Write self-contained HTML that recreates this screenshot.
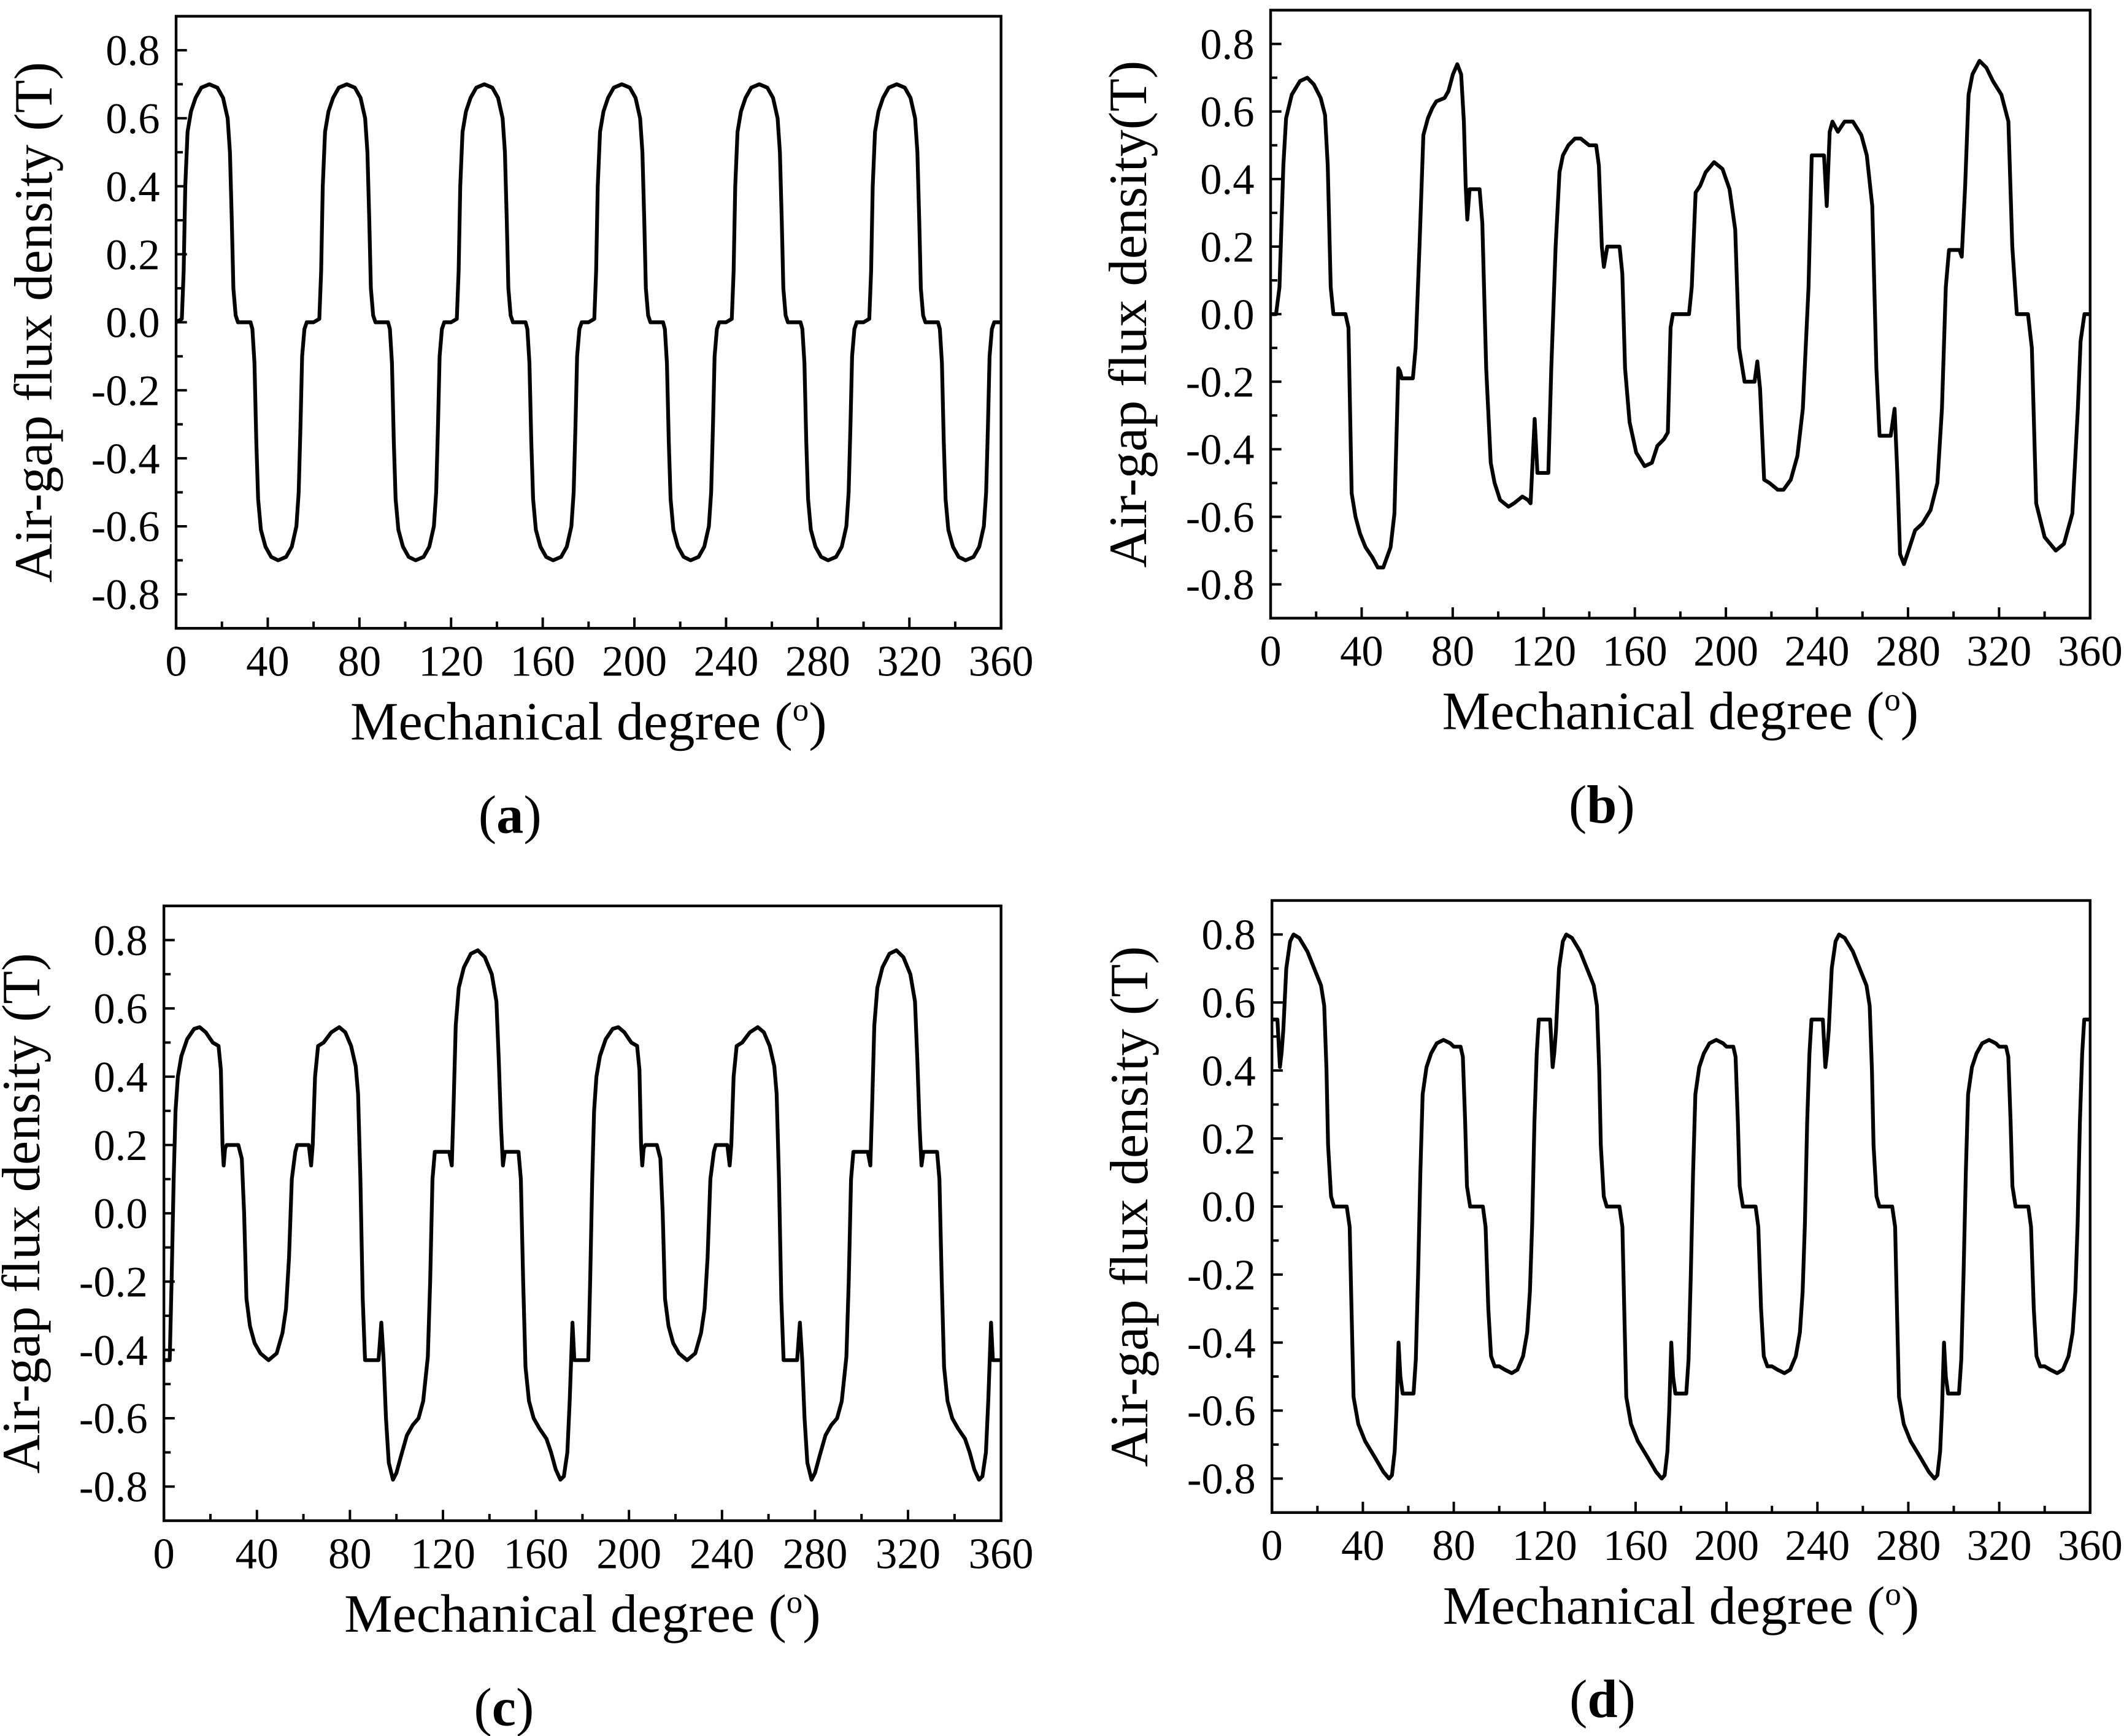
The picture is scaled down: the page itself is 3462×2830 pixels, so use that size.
<!DOCTYPE html>
<html><head><meta charset="utf-8"><style>
html,body{margin:0;padding:0;background:#fff;}
svg{display:block;}
text{font-family:"Liberation Serif",serif;fill:#000;}
</style></head><body>
<svg id="fig" xmlns="http://www.w3.org/2000/svg" width="3462" height="2830" viewBox="0 0 1568 1282" preserveAspectRatio="none"></svg>
<script>
const xTicks=[0,40,80,120,160,200,240,280,320,360];
const yTicks=[0.8,0.6,0.4,0.2,0.0,-0.2,-0.4,-0.6,-0.8];
const yTickLabels=["0.8","0.6","0.4","0.2","0.0","-0.2","-0.4","-0.6","-0.8"];

const aDeg=[0,2.5,3.3,4,5,6.5,8.5,11,14.5,18,20.5,22.5,23.5,24.3,25,26,27,32.5,33.3,34.2,35,35.8,37,39,41.5,44.5,48,50.5,52.5,53.5,54.3,55,56,57,
60,62.5,63.3,64,65,66.5,68.5,71,74.5,78,80.5,82.5,83.5,84.3,85,86,87,92.5,93.3,94.2,95,95.8,97,99,101.5,104.5,108,110.5,112.5,113.5,114.3,115,116,117,
120,122.5,123.3,124,125,126.5,128.5,131,134.5,138,140.5,142.5,143.5,144.3,145,146,147,152.5,153.3,154.2,155,155.8,157,159,161.5,164.5,168,170.5,172.5,173.5,174.3,175,176,177,
180,182.5,183.3,184,185,186.5,188.5,191,194.5,198,200.5,202.5,203.5,204.3,205,206,207,212.5,213.3,214.2,215,215.8,217,219,221.5,224.5,228,230.5,232.5,233.5,234.3,235,236,237,
240,242.5,243.3,244,245,246.5,248.5,251,254.5,258,260.5,262.5,263.5,264.3,265,266,267,272.5,273.3,274.2,275,275.8,277,279,281.5,284.5,288,290.5,292.5,293.5,294.3,295,296,297,
300,302.5,303.3,304,305,306.5,308.5,311,314.5,318,320.5,322.5,323.5,324.3,325,326,327,332.5,333.3,334.2,335,335.8,337,339,341.5,344.5,348,350.5,352.5,353.5,354.3,355,356,357,359.6];
const aB=[0,0.01,0.15,0.4,0.56,0.62,0.66,0.69,0.70,0.69,0.66,0.6,0.5,0.3,0.1,0.02,0,0,-0.02,-0.12,-0.35,-0.52,-0.61,-0.66,-0.69,-0.70,-0.69,-0.66,-0.6,-0.5,-0.3,-0.1,-0.02,0,
0,0.01,0.15,0.4,0.56,0.62,0.66,0.69,0.70,0.69,0.66,0.6,0.5,0.3,0.1,0.02,0,0,-0.02,-0.12,-0.35,-0.52,-0.61,-0.66,-0.69,-0.70,-0.69,-0.66,-0.6,-0.5,-0.3,-0.1,-0.02,0,
0,0.01,0.15,0.4,0.56,0.62,0.66,0.69,0.70,0.69,0.66,0.6,0.5,0.3,0.1,0.02,0,0,-0.02,-0.12,-0.35,-0.52,-0.61,-0.66,-0.69,-0.70,-0.69,-0.66,-0.6,-0.5,-0.3,-0.1,-0.02,0,
0,0.01,0.15,0.4,0.56,0.62,0.66,0.69,0.70,0.69,0.66,0.6,0.5,0.3,0.1,0.02,0,0,-0.02,-0.12,-0.35,-0.52,-0.61,-0.66,-0.69,-0.70,-0.69,-0.66,-0.6,-0.5,-0.3,-0.1,-0.02,0,
0,0.01,0.15,0.4,0.56,0.62,0.66,0.69,0.70,0.69,0.66,0.6,0.5,0.3,0.1,0.02,0,0,-0.02,-0.12,-0.35,-0.52,-0.61,-0.66,-0.69,-0.70,-0.69,-0.66,-0.6,-0.5,-0.3,-0.1,-0.02,0,
0,0.01,0.15,0.4,0.56,0.62,0.66,0.69,0.70,0.69,0.66,0.6,0.5,0.3,0.1,0.02,0,0,-0.02,-0.12,-0.35,-0.52,-0.61,-0.66,-0.69,-0.70,-0.69,-0.66,-0.6,-0.5,-0.3,-0.1,-0.02,0,0];

const bDeg=[0,2.4,3.9,5.6,6.8,9.3,12.9,16.1,19,22,23.9,25.1,26.4,27.6,32.9,34.2,35.6,37.3,39.3,41.7,44.7,47.1,49.5,52.7,54.4,56.1,56.9,57.6,62.5,63.7,65.4,67.1,69.1,71,72.8,76.4,78.1,80.1,82,83.7,84.9,85.7,86.4,87.4,91.8,93,94.7,96.7,98.4,100.8,104.5,106.9,110.6,113,114.2,116,117.2,122,123.3,125.2,126.9,128.4,130.8,133.7,136.2,139.9,143,144.2,145.5,146.4,147.9,153.3,154.5,155.7,157.7,160.6,164.3,167.5,169.9,172.8,174.5,175.7,176.7,183.8,185,186.7,188.7,191.1,194.8,198.5,201.6,204.1,205.8,208.2,212.6,213.8,215,216.8,219.2,222.8,225.3,228.5,231.4,233.8,236.3,237.7,243.1,244.3,245.6,246.8,249.2,252.1,255.8,259.5,261.9,264.3,266.1,267.5,272.4,274.1,275.3,276.5,278.2,280.2,283.1,286.3,289.9,292.9,294.9,296.6,298,302.6,303.6,305.1,306.6,308.3,311.4,314.4,317.3,321,324.1,325.8,327.8,332.7,334.4,336.3,340,344.9,348.5,352.2,354.6,355.8,357.5,360];
const bB=[0,0,0.08,0.44,0.58,0.65,0.69,0.70,0.68,0.64,0.59,0.44,0.08,0,0,-0.04,-0.53,-0.6,-0.65,-0.69,-0.72,-0.75,-0.75,-0.69,-0.59,-0.16,-0.17,-0.19,-0.19,-0.1,0.2,0.53,0.58,0.61,0.63,0.64,0.66,0.71,0.74,0.71,0.57,0.38,0.28,0.37,0.37,0.27,-0.16,-0.44,-0.5,-0.55,-0.57,-0.56,-0.54,-0.55,-0.56,-0.31,-0.47,-0.47,-0.16,0.2,0.42,0.47,0.5,0.52,0.52,0.5,0.5,0.44,0.2,0.14,0.2,0.2,0.12,-0.16,-0.32,-0.41,-0.45,-0.44,-0.39,-0.37,-0.35,-0.04,0,0,0.08,0.36,0.38,0.42,0.45,0.43,0.37,0.25,-0.1,-0.2,-0.2,-0.14,-0.22,-0.49,-0.5,-0.52,-0.52,-0.49,-0.42,-0.28,0.08,0.47,0.47,0.32,0.54,0.57,0.54,0.57,0.57,0.53,0.47,0.32,-0.16,-0.36,-0.36,-0.28,-0.47,-0.71,-0.74,-0.7,-0.64,-0.62,-0.58,-0.5,-0.28,0.08,0.19,0.19,0.17,0.38,0.65,0.71,0.75,0.73,0.69,0.65,0.57,0.2,0,0,-0.1,-0.56,-0.66,-0.70,-0.68,-0.59,-0.28,-0.08,0,0];

const cDeg=[0,2.5,3.3,4.2,5,6,7.5,10,13,15.4,18,21,23.5,24.5,25.2,25.7,26.3,27,32,33.5,34.5,35.5,37,39,41.5,45,48.5,51,52.5,53.8,55,56.5,57.3,62.3,63.3,64,65,66.3,68.7,72,75.4,78,80.5,82.5,83.5,84.5,85.5,86.5,92.3,93.5,94.5,95.5,96.7,98.5,100,102,104.5,107,109.5,111.5,113.5,114.5,115.5,116.5,122.7,123.8,124.5,125.5,126.8,129,132,135,138,141,143,144,145,145.8,146.6,152.5,153.5,154.5,155.5,157,159,161.5,164.5,166.5,168.5,170.5,172,173.5,174.5,175.7,176.5,
180,182.5,183.3,184.2,185,186,187.5,190,193,195.4,198,201,203.5,204.5,205.2,205.7,206.3,207,212,213.5,214.5,215.5,217,219,221.5,225,228.5,231,232.5,233.8,235,236.5,237.3,242.3,243.3,244,245,246.3,248.7,252,255.4,258,260.5,262.5,263.5,264.5,265.5,266.5,272.3,273.5,274.5,275.5,276.7,278.5,280,282,284.5,287,289.5,291.5,293.5,294.5,295.5,296.5,302.7,303.8,304.5,305.5,306.8,309,312,315,318,321,323,324,325,325.8,326.6,332.5,333.5,334.5,335.5,337,339,341.5,344.5,346.5,348.5,350.5,352,353.5,354.5,355.7,356.5,360];
const cB=[-0.43,-0.43,-0.2,0.1,0.3,0.4,0.46,0.51,0.54,0.545,0.53,0.5,0.49,0.42,0.2,0.14,0.19,0.2,0.2,0.16,0.0,-0.25,-0.33,-0.38,-0.41,-0.43,-0.41,-0.35,-0.28,-0.13,0.1,0.18,0.2,0.2,0.14,0.2,0.4,0.49,0.5,0.53,0.545,0.53,0.49,0.43,0.35,0.1,-0.25,-0.43,-0.43,-0.32,-0.43,-0.6,-0.73,-0.78,-0.76,-0.71,-0.65,-0.62,-0.6,-0.55,-0.42,-0.2,0.1,0.18,0.18,0.14,0.3,0.55,0.66,0.72,0.76,0.77,0.75,0.7,0.62,0.45,0.25,0.14,0.18,0.18,0.1,-0.2,-0.45,-0.55,-0.6,-0.63,-0.66,-0.7,-0.75,-0.78,-0.77,-0.7,-0.55,-0.32,-0.43,
-0.43,-0.43,-0.2,0.1,0.3,0.4,0.46,0.51,0.54,0.545,0.53,0.5,0.49,0.42,0.2,0.14,0.19,0.2,0.2,0.16,0.0,-0.25,-0.33,-0.38,-0.41,-0.43,-0.41,-0.35,-0.28,-0.13,0.1,0.18,0.2,0.2,0.14,0.2,0.4,0.49,0.5,0.53,0.545,0.53,0.49,0.43,0.35,0.1,-0.25,-0.43,-0.43,-0.32,-0.43,-0.6,-0.73,-0.78,-0.76,-0.71,-0.65,-0.62,-0.6,-0.55,-0.42,-0.2,0.1,0.18,0.18,0.14,0.3,0.55,0.66,0.72,0.76,0.77,0.75,0.7,0.62,0.45,0.25,0.14,0.18,0.18,0.1,-0.2,-0.45,-0.55,-0.6,-0.63,-0.66,-0.7,-0.75,-0.78,-0.77,-0.7,-0.55,-0.32,-0.43,-0.43];

const dDeg=[0,2.4,3.5,4.2,5,6.3,8,9.5,12,15.6,19.2,21.6,23,24,24.7,26,27.3,32.9,34.2,35,35.9,38,41,45.5,49,51.5,52.8,54,54.8,55.7,56.5,57.5,62.3,63.3,64.3,65.3,66.3,68,70,72.5,75.5,78.5,80,83,84,85,85.8,87.2,92.8,94,95.2,96.4,98,100,102.5,105.5,108,110.5,112.3,113.5,114.5,115.5,116.5,117.4,
120,122.4,123.5,124.2,125,126.3,128,129.5,132,135.6,139.2,141.6,143,144,144.7,146,147.3,152.9,154.2,155,155.9,158,161,165.5,169,171.5,172.8,174,174.8,175.7,176.5,177.5,182.3,183.3,184.3,185.3,186.3,188,190,192.5,195.5,198.5,200,203,204,205,205.8,207.2,212.8,214,215.2,216.4,218,220,222.5,225.5,228,230.5,232.3,233.5,234.5,235.5,236.5,237.4,
240,242.4,243.5,244.2,245,246.3,248,249.5,252,255.6,259.2,261.6,263,264,264.7,266,267.3,272.9,274.2,275,275.9,278,281,285.5,289,291.5,292.8,294,294.8,295.7,296.5,297.5,302.3,303.3,304.3,305.3,306.3,308,310,312.5,315.5,318.5,320,323,324,325,325.8,327.2,332.8,334,335.2,336.4,338,340,342.5,345.5,348,350.5,352.3,353.5,354.5,355.5,356.5,357.4,360];
const dB=[0.55,0.55,0.41,0.45,0.52,0.70,0.78,0.80,0.79,0.75,0.69,0.65,0.59,0.4,0.18,0.03,0,0,-0.06,-0.3,-0.56,-0.64,-0.69,-0.74,-0.78,-0.80,-0.79,-0.72,-0.6,-0.40,-0.50,-0.55,-0.55,-0.45,-0.2,0.1,0.33,0.41,0.45,0.48,0.49,0.48,0.47,0.47,0.44,0.25,0.06,0,0,-0.06,-0.3,-0.44,-0.47,-0.47,-0.48,-0.49,-0.48,-0.44,-0.37,-0.25,-0.05,0.25,0.45,0.55,
0.55,0.55,0.41,0.45,0.52,0.70,0.78,0.80,0.79,0.75,0.69,0.65,0.59,0.4,0.18,0.03,0,0,-0.06,-0.3,-0.56,-0.64,-0.69,-0.74,-0.78,-0.80,-0.79,-0.72,-0.6,-0.40,-0.50,-0.55,-0.55,-0.45,-0.2,0.1,0.33,0.41,0.45,0.48,0.49,0.48,0.47,0.47,0.44,0.25,0.06,0,0,-0.06,-0.3,-0.44,-0.47,-0.47,-0.48,-0.49,-0.48,-0.44,-0.37,-0.25,-0.05,0.25,0.45,0.55,
0.55,0.55,0.41,0.45,0.52,0.70,0.78,0.80,0.79,0.75,0.69,0.65,0.59,0.4,0.18,0.03,0,0,-0.06,-0.3,-0.56,-0.64,-0.69,-0.74,-0.78,-0.80,-0.79,-0.72,-0.6,-0.40,-0.50,-0.55,-0.55,-0.45,-0.2,0.1,0.33,0.41,0.45,0.48,0.49,0.48,0.47,0.47,0.44,0.25,0.06,0,0,-0.06,-0.3,-0.44,-0.47,-0.47,-0.48,-0.49,-0.48,-0.44,-0.37,-0.25,-0.05,0.25,0.45,0.55,0.55];

const NS="http://www.w3.org/2000/svg";
const svg=document.getElementById('fig');
function mk(tag,attrs,parent){const e=document.createElementNS(NS,tag);for(const k in attrs)e.setAttribute(k,attrs[k]);(parent||svg).appendChild(e);return e;}

const panels=[
 {id:'a',x0:130,x1:739,y0:12,y1:464,deg:aDeg,val:aB,ytitle:'Air-gap flux density (T)'},
 {id:'b',x0:938,x1:1543,y0:7.5,y1:456.5,deg:bDeg,val:bB,ytitle:'Air-gap flux density(T)'},
 {id:'c',x0:121,x1:739,y0:669,y1:1123,deg:cDeg,val:cB,ytitle:'Air-gap flux density (T)'},
 {id:'d',x0:939,x1:1543,y0:665,y1:1117,deg:dDeg,val:dB,ytitle:'Air-gap flux density (T)'}
];

panels.forEach(p=>{
 const sx=d=>p.x0+d/360*(p.x1-p.x0);
 const sy=v=>p.y0+(0.9-v)/1.8*(p.y1-p.y0);
 const g=mk('g',{});
 
 
 let dstr='';
 for(let i=0;i<p.deg.length;i++){dstr+=(i?'L':'M')+sx(p.deg[i]).toFixed(2)+' '+sy(p.val[i]).toFixed(2);}
 const line=mk('path',{d:dstr,fill:'none',stroke:'#000','stroke-width':2.8,'stroke-linejoin':'round'},g);
 
 
 const tg=mk('g',{stroke:'#000','stroke-width':1.8},g);
 
 
 for(let i=0;i<xTicks.length;i++){
  const x=sx(xTicks[i]);
  mk('line',{x1:x,y1:p.y1,x2:x,y2:p.y1-8},tg);
  if(i<xTicks.length-1){const xm=sx((xTicks[i]+xTicks[i+1])/2);mk('line',{x1:xm,y1:p.y1,x2:xm,y2:p.y1-5},tg);}
  const t=mk('text',{x:x,y:p.y1+35,'text-anchor':'middle','font-size':32},g);
  t.textContent=String(xTicks[i]);
  
  
 }
 for(let i=0;i<yTicks.length;i++){
  const y=sy(yTicks[i]);
  mk('line',{x1:p.x0,y1:y,x2:p.x0+8,y2:y},tg);
  if(i<yTicks.length-1){const ym=sy((yTicks[i]+yTicks[i+1])/2);mk('line',{x1:p.x0,y1:ym,x2:p.x0+5,y2:ym},tg);}
  const t=mk('text',{x:p.x0-12,y:y+11,'text-anchor':'end','font-size':32},g);
  t.textContent=yTickLabels[i];
  
  
 }
 const fr=mk('rect',{x:p.x0,y:p.y0,width:p.x1-p.x0,height:p.y1-p.y0,fill:'none',stroke:'#000','stroke-width':2},g);
 
 
 const cx=(p.x0+p.x1)/2, cy=(p.y0+p.y1)/2;
 const yt=mk('text',{x:0,y:0,'text-anchor':'middle','font-size':40,transform:'translate('+(p.x0-92)+','+cy+') rotate(-90)'},g);
 yt.textContent=p.ytitle;
 
 
 const xt=mk('text',{x:cx,y:p.y1+82,'text-anchor':'middle','font-size':40},g);
 
 
 const s1=mk('tspan',{},xt);s1.textContent='Mechanical degree (';
 const s2=mk('tspan',{dy:-14,'font-size':24},xt);s2.textContent='o';
 const s3=mk('tspan',{dy:14},xt);s3.textContent=')';
 const pl=mk('text',{x:cx-58,y:p.y1+151,'text-anchor':'middle','font-size':40},g);
 
 
 const q1=mk('tspan',{},pl);q1.textContent='(';
 const q2=mk('tspan',{'font-weight':'bold'},pl);q2.textContent=p.id;
 const q3=mk('tspan',{},pl);q3.textContent=')';
});
</script>
</body></html>
